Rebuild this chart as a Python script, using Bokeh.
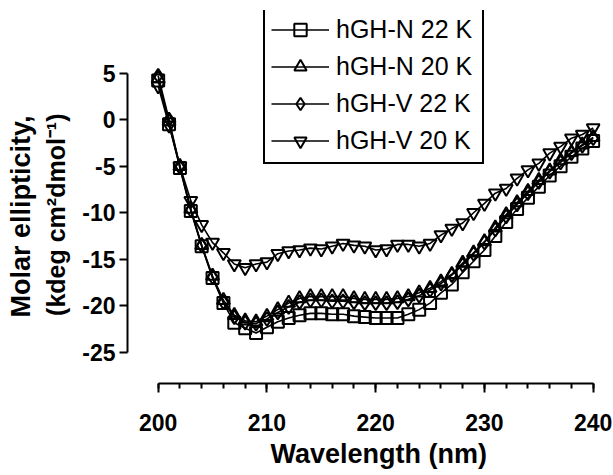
from bokeh.plotting import figure
from bokeh.models import Range1d, SingleIntervalTicker, Legend, LegendItem, Title
from bokeh.embed import file_html
from bokeh.resources import INLINE

wavelength = list(range(200, 241))

hgh_n_22k = [4.2, -0.5, -5.2, -9.8, -13.6, -17.0, -19.7, -21.8, -22.4, -22.9,
             -22.3, -21.7, -21.3, -21.0, -20.8, -20.8, -20.9, -20.9, -21.1, -21.2,
             -21.3, -21.3, -21.3, -20.9, -20.4, -19.7, -18.6, -17.7, -16.4, -15.2,
             -14.0, -12.5, -11.0, -9.6, -8.4, -7.2, -6.0, -5.0, -4.0, -3.1, -2.3]
hgh_n_20k = [4.4, -0.2, -5.0, -9.6, -13.5, -16.8, -19.4, -21.0, -21.6, -21.7,
             -21.1, -20.4, -19.7, -19.2, -19.0, -19.0, -19.0, -19.0, -19.2, -19.3,
             -19.3, -19.3, -19.2, -19.0, -18.6, -18.1, -17.4, -16.6, -15.4, -14.3,
             -13.1, -11.6, -10.2, -8.9, -7.7, -6.5, -5.5, -4.4, -3.5, -2.7, -1.9]
hgh_v_22k = [4.7, 0.0, -5.1, -9.7, -13.5, -16.9, -19.6, -21.2, -21.8, -21.9,
             -21.4, -20.7, -20.1, -19.6, -19.4, -19.4, -19.5, -19.5, -19.6, -19.7,
             -19.7, -19.7, -19.6, -19.3, -18.9, -18.3, -17.6, -16.7, -15.6, -14.4,
             -13.2, -11.8, -10.4, -9.1, -7.9, -6.7, -5.6, -4.6, -3.6, -2.8, -2.0]
hgh_v_20k = [3.6, -0.6, -5.0, -8.7, -11.3, -13.2, -14.3, -15.5, -15.9, -15.5,
             -15.3, -14.4, -14.1, -14.0, -13.8, -13.9, -13.6, -13.3, -13.5, -13.6,
             -14.0, -13.9, -13.4, -13.4, -13.6, -13.3, -12.4, -11.7, -11.1, -10.0,
             -9.0, -7.9, -7.4, -6.3, -5.4, -4.7, -3.6, -2.9, -2.0, -1.6, -0.9]

series_names = ["hGH-N 22 K", "hGH-N 20 K", "hGH-V 22 K", "hGH-V 20 K"]
series_values = [hgh_n_22k, hgh_n_20k, hgh_v_22k, hgh_v_20k]
markers = ["square", "triangle", "diamond", "inverted_triangle"]
marker_sizes = [12, 13, 14, 13]

y_tick_values = [-25, -20, -15, -10, -5, 0, 5]
y_tick_labels = ["-25", "-20", "-15", "-10", "-5", "0", "5"]
x_tick_values = [200, 210, 220, 230, 240]
x_tick_labels = ["200", "210", "220", "230", "240"]

x_label = "Wavelength  (nm)"
y_label_line1 = "Molar ellipticity,"
y_label_line2 = "(kdeg cm\u00b2dmol\u207b\u00b9)"

FONT = "Liberation Sans"

p = figure(width=613, height=475, output_backend="svg", toolbar_location=None,
           x_range=Range1d(197.18, 240.67), y_range=Range1d(-28.33, 11.71),
           min_border_left=127, min_border_right=13, min_border_top=10,
           min_border_bottom=92)
p.outline_line_color = None
p.grid.visible = False
p.background_fill_color = "white"
p.border_fill_color = "white"

xa = p.xaxis[0]
ya = p.yaxis[0]
xa.ticker = SingleIntervalTicker(interval=10, num_minor_ticks=5)
ya.ticker = SingleIntervalTicker(interval=5, num_minor_ticks=5)
xa.bounds = (200, 240)
ya.bounds = (-25, 5)
xa.major_label_overrides = dict(zip(x_tick_values, x_tick_labels))
ya.major_label_overrides = dict(zip(y_tick_values, y_tick_labels))
for ax in (xa, ya):
    ax.axis_line_width = 2
    ax.axis_line_color = "black"
    ax.major_tick_line_width = 2
    ax.major_tick_line_color = "black"
    ax.minor_tick_line_width = 2
    ax.minor_tick_line_color = "black"
    ax.major_tick_in = 0
    ax.minor_tick_in = 0
    ax.major_label_text_font = FONT
    ax.major_label_text_font_style = "bold"
    ax.major_label_text_font_size = "23px"
    ax.major_label_text_color = "black"
xa.major_tick_out = 9
xa.minor_tick_out = 5
xa.major_label_standoff = 21
ya.major_tick_out = 8
ya.minor_tick_line_color = None
ya.major_label_standoff = 4

renderers = []
for vals, m, ms in zip(series_values, markers, marker_sizes):
    lr = p.line(wavelength, vals, line_color="black", line_width=1.6)
    sr = p.scatter(wavelength, vals, marker=m, size=ms, fill_alpha=0,
                   line_color="black", line_width=2)
    renderers.append((lr, sr))

items = [LegendItem(label=name, renderers=[lr, sr])
         for name, (lr, sr) in zip(series_names, renderers)]

legend = Legend(items=items, location=(136, 219))
legend.border_line_color = "black"
legend.border_line_width = 2
legend.border_line_alpha = 1
legend.background_fill_color = "white"
legend.background_fill_alpha = 1
legend.label_text_font = FONT
legend.label_text_font_size = "25px"
legend.label_text_color = "black"
legend.padding = 6
legend.spacing = 6
legend.margin = 0
legend.glyph_height = 31
legend.label_height = 31
legend.glyph_width = 58
legend.label_standoff = 7
legend.label_width = 140
p.add_layout(legend)

# inner line of the y-axis title (closest to the axis)
y_title2 = Title(text=y_label_line2, align="right", offset=103,
                 vertical_align="bottom", standoff=19, text_font=FONT,
                 text_font_style="bold", text_font_size="25px", text_color="black")
p.add_layout(y_title2, "left")
# outer line of the y-axis title
y_title1 = Title(text=y_label_line1, align="right", offset=105,
                 vertical_align="bottom", standoff=-10, text_font=FONT,
                 text_font_style="bold", text_font_size="27px", text_color="black")
p.add_layout(y_title1, "left")

x_title = Title(text=x_label, align="left", offset=143, vertical_align="top",
                standoff=10, text_font=FONT, text_font_style="bold",
                text_font_size="27px", text_color="black")
p.add_layout(x_title, "below")

open("out.html", "w").write(file_html(p, INLINE))
